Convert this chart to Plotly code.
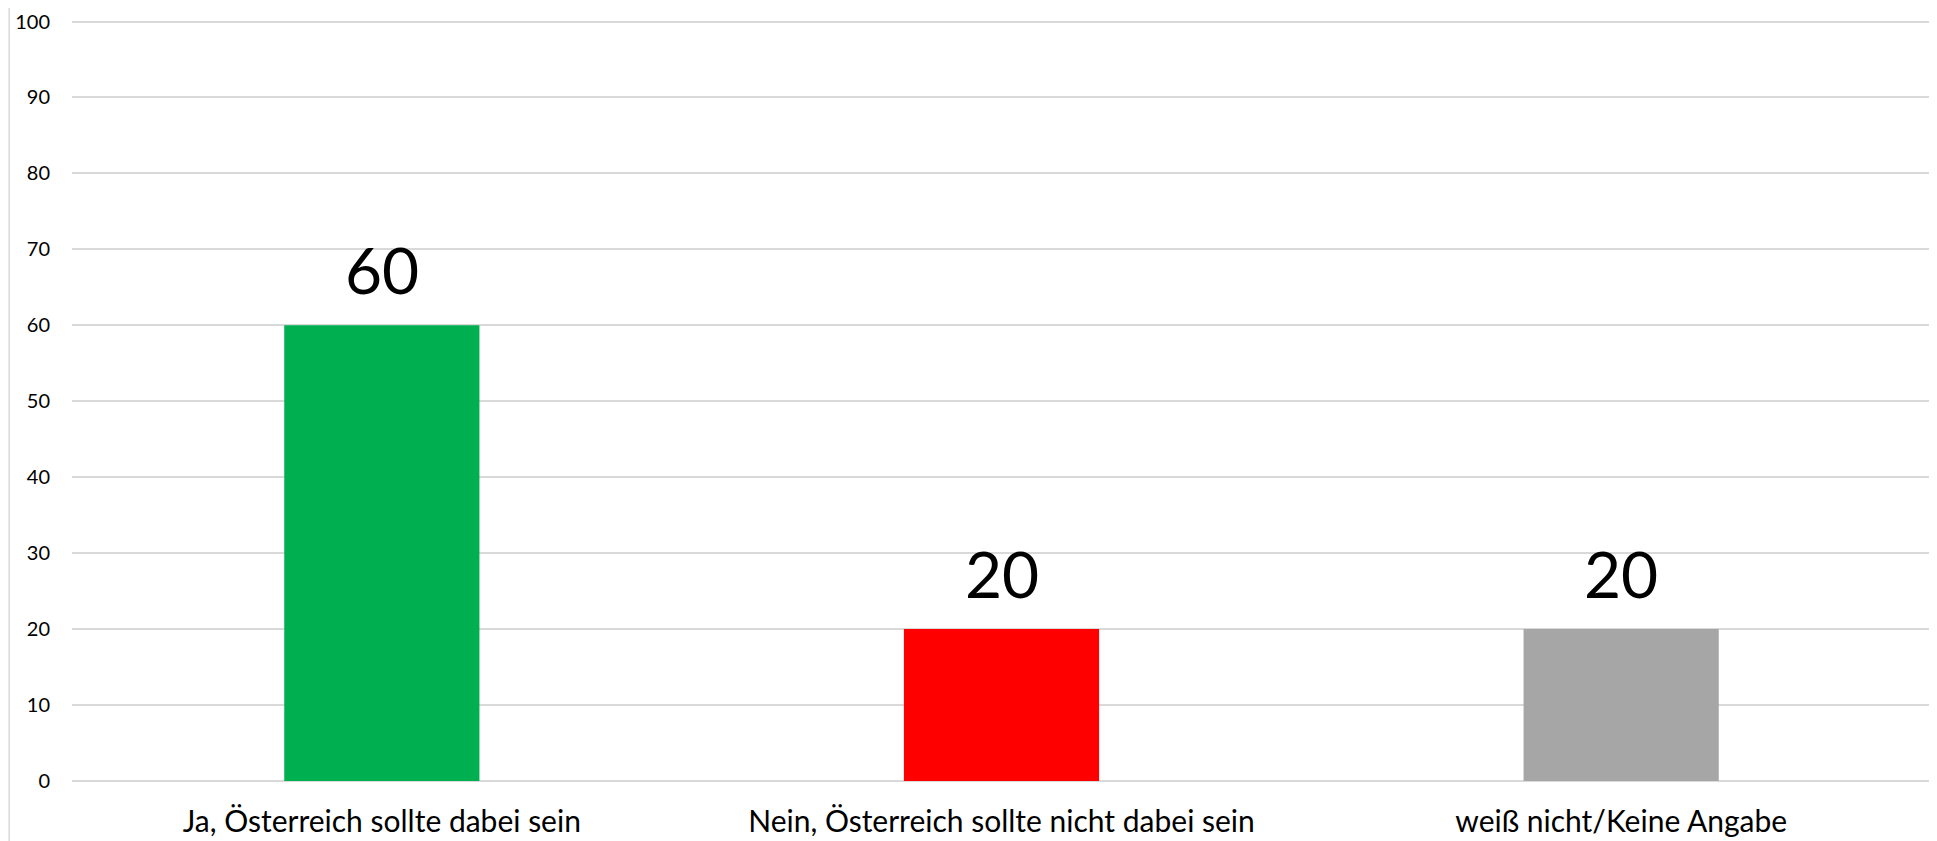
import plotly.graph_objects as go

categories = ["Ja, Österreich sollte dabei sein",
              "Nein, Österreich sollte nicht dabei sein",
              "weiß nicht/Keine Angabe"]
values = [60, 20, 20]
colors = ["#00B050", "#FF0000", "#A6A6A6"]
y_ticks = [0, 10, 20, 30, 40, 50, 60, 70, 80, 90, 100]

FONT = "Lato"

fig = go.Figure()
fig.add_trace(go.Bar(
    x=categories, y=values,
    marker=dict(color=colors, line=dict(width=0)),
    width=0.315,
    hoverinfo="skip",
))

for c, v in zip(categories, values):
    fig.add_annotation(x=c, y=v, text=str(v), showarrow=False,
                       yanchor="bottom", yshift=15,
                       font=dict(family=FONT, size=64, color="#000000"))

# thin border line at the left edge of the chart area
fig.add_shape(type="line", xref="paper", yref="paper",
              x0=-0.0338, x1=-0.0338, y0=-0.12, y1=1.05,
              line=dict(color="#D9D9D9", width=1.5))

fig.update_layout(
    width=1937, height=841,
    margin=dict(l=64, r=14, t=12, b=68, autoexpand=False),
    paper_bgcolor="white", plot_bgcolor="white",
    showlegend=False,
    font=dict(family=FONT, color="#000000"),
    xaxis=dict(showgrid=False, showline=False, ticks="", automargin=False,
               ticklabelstandoff=20,
               tickfont=dict(family=FONT, size=30, color="#000000")),
    yaxis=dict(range=[0, 100.2], tickvals=y_ticks, automargin=False,
               showgrid=True, gridcolor="#D9D9D9", gridwidth=2,
               zeroline=True, zerolinecolor="#D9D9D9", zerolinewidth=2,
               showline=False, ticks="", ticklen=0,
               ticklabelstandoff=21,
               tickfont=dict(family=FONT, size=20, color="#000000")),
)

fig.write_html("out.html")
